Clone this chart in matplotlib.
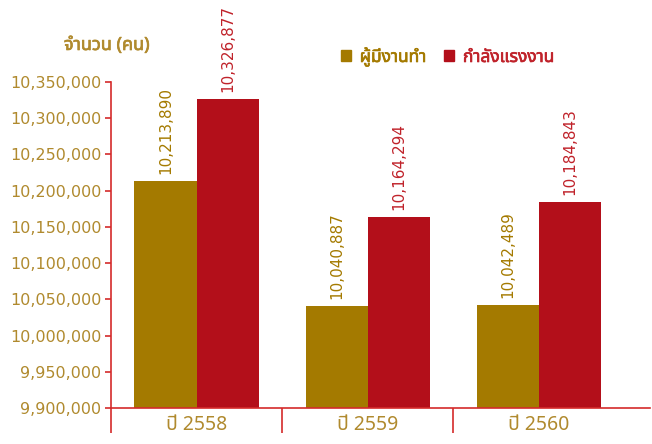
import matplotlib
matplotlib.use("Agg")
import matplotlib.pyplot as plt
from matplotlib import font_manager
from matplotlib.ft2font import FT2Font
from matplotlib.patches import Patch
import matplotlib.patheffects as pe
import numpy as np

years = ["ปี 2558", "ปี 2559", "ปี 2560"]
employed = [10213890, 10040887, 10042489]
labor_force = [10326877, 10164294, 10184843]
series_names = ["ผู้มีงานทำ", "กำลังแรงงาน"]
y_ticks = [9900000, 9950000, 10000000, 10050000, 10100000, 10150000,
           10200000, 10250000, 10300000, 10350000]
y_title = "จำนวน (คน)"

# find a font that covers Thai
thai_font = None
found = []
for f in font_manager.fontManager.ttflist:
    try:
        cm = FT2Font(f.fname).get_charmap()
        if 0x0E08 in cm and 0x0E33 in cm:
            found.append(f.name)
    except Exception:
        pass
pref = ["Tahoma", "Noto Sans Thai", "Noto Sans Thai UI", "Loma", "Garuda", "Sarabun"]
for p in pref:
    if p in found:
        thai_font = p
        break
if thai_font is None and found:
    thai_font = found[0]
fam = ["DejaVu Sans"] + ([thai_font] if thai_font else [])
fam_thai = ([thai_font] if thai_font else []) + ["DejaVu Sans"]
plt.rcParams['font.family'] = fam

GOLD = "#a47a00"
RED = "#b30f1a"
RED_TXT = "#c0222a"
TXT = "#b08a2e"
AX = "#d42b2b"

fig = plt.figure(figsize=(6.52, 4.44), dpi=100)
ax = fig.add_axes([111/652, 1-408/444, (650-111)/652, (408-82)/444])

x = np.arange(len(years))
w = 0.363
ax.bar(x - w/2, [v - 9900000 for v in employed], w, bottom=9900000, color=GOLD)
ax.bar(x + w/2, [v - 9900000 for v in labor_force], w, bottom=9900000, color=RED)

for xi, v in zip(x - w/2, employed):
    ax.text(xi, v + 9000, f"{v:,}", rotation=90, ha="center", va="bottom",
            color=GOLD, fontsize=11, clip_on=False)
for xi, v in zip(x + w/2, labor_force):
    ax.text(xi, v + 9000, f"{v:,}", rotation=90, ha="center", va="bottom",
            color=RED_TXT, fontsize=11, clip_on=False)

ax.set_ylim(9900000, 10350000)
ax.set_xlim(-0.5, 2.65)
ax.set_yticks(y_ticks)
ax.set_yticklabels([f"{t:,}" for t in y_ticks], color=TXT, fontsize=11.5)
ax.tick_params(axis="y", colors=AX, labelcolor=TXT, length=4, width=1.2, pad=3)

ax.set_xticks(x)
ax.set_xticklabels(years, color=TXT, fontsize=14, family=fam_thai)
ax.tick_params(axis="x", length=0, pad=5)
ax.set_xticks([-0.5, 0.5, 1.5], minor=True)
ax.tick_params(axis="x", which="minor", length=18, width=1.2, colors=AX, direction="out")

for s in ["top", "right"]:
    ax.spines[s].set_visible(False)
for s in ["left", "bottom"]:
    ax.spines[s].set_color(AX)
    ax.spines[s].set_linewidth(1.2)

fig.text(107/652, 1-45/444, y_title, ha="center", va="center", color=TXT,
         fontsize=13, family=fam_thai,
         path_effects=[pe.withStroke(linewidth=0.5, foreground=TXT)])

handles = [Patch(color=GOLD), Patch(color=RED)]
leg = fig.legend(handles, series_names, loc="center left", bbox_to_anchor=(325/652, 1-57/444),
                 ncol=2, frameon=False, handlelength=0.6, handleheight=0.6,
                 handletextpad=0.5, columnspacing=1.0, labelcolor=[GOLD, RED_TXT],
                 prop={"family": fam_thai, "size": 12.5})
for t, c in zip(leg.get_texts(), [GOLD, RED_TXT]):
    t.set_path_effects([pe.withStroke(linewidth=0.5, foreground=c)])

fig.savefig("out.png", dpi=100)
